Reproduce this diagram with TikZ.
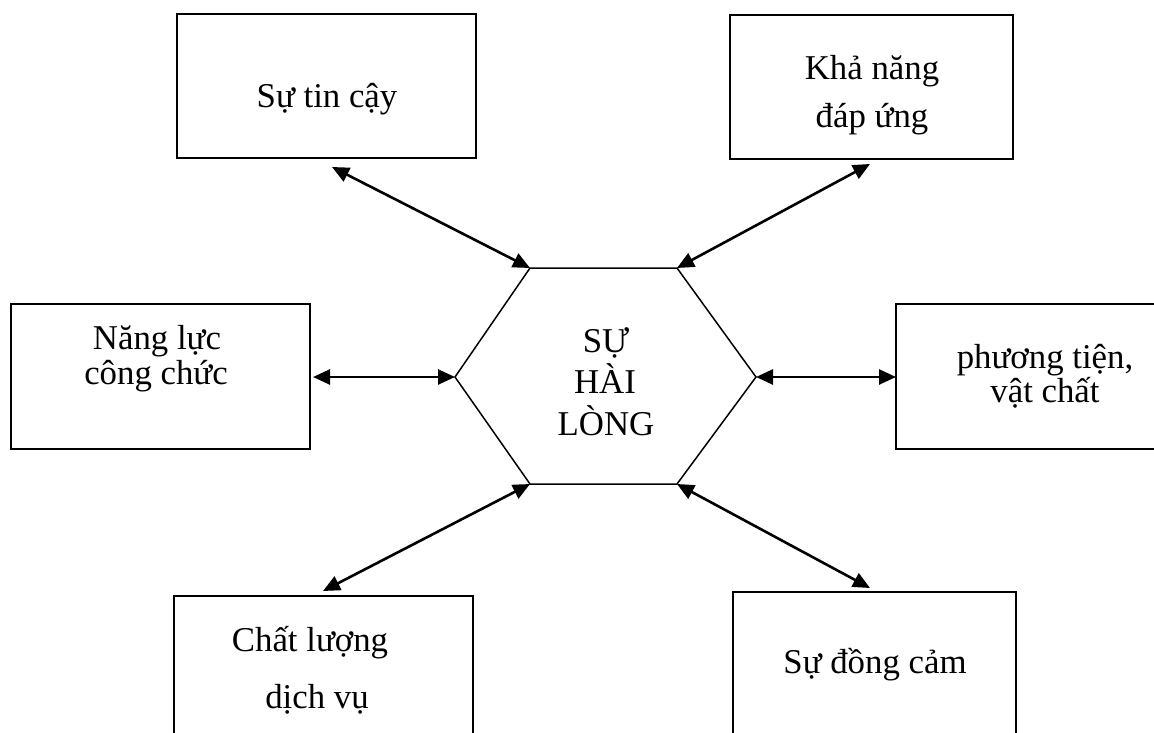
\documentclass[tikz,border=0pt]{standalone}
\usepackage{fontspec}
\setmainfont{Liberation Serif}
\usetikzlibrary{arrows.meta}
\tikzset{
  box/.style={draw, line width=2pt, rectangle, inner sep=0pt},
  txt/.style={anchor=base, inner sep=0pt, font=\fontsize{34.8}{34}\selectfont},
  link/.style={line width=2.6pt, {Triangle[length=17pt,width=15pt]}-{Triangle[length=17pt,width=15pt]}},
  hexline/.style={line width=1.5pt, line join=miter}
}
\begin{document}
\begin{tikzpicture}[x=1pt,y=-1pt]
\useasboundingbox (0,0) rectangle (1154,733);
\clip (0,0) rectangle (1154,733);
% boxes
\node[box, minimum width=299pt, minimum height=144pt] (b1) at (326.5,86) {};
\node[box, minimum width=283pt, minimum height=144pt] (b2) at (871.5,87) {};
\node[box, minimum width=299pt, minimum height=145pt] (b3) at (160.5,376.5) {};
\node[box, minimum width=294pt, minimum height=145pt] (b4) at (1043,376.5) {};
\node[box, minimum width=299pt, minimum height=144pt] (b5) at (323.5,668) {};
\node[box, minimum width=283pt, minimum height=144pt] (b6) at (874.5,664) {};
% texts
\node[txt] (t1) at (327,108) {Sự tin cậy};
\node[txt] (t2a) at (872,80) {Khả năng};
\node[txt] (t2b) at (872,128) {đáp ứng};
\node[txt] (t3a) at (157,349) {Năng lực};
\node[txt] (t3b) at (156,384) {công chức};
\node[txt, align=center] (t4) at (1045,402) {phương tiện,\\vật chất};
\node[txt] (t5a) at (310,651) {Chất lượng};
\node[txt] (t5b) at (317,708) {dịch vụ};
\node[txt] (t6) at (875,673) {Sự đồng cảm};
% hexagon
\coordinate (hL) at (455,377);
\coordinate (hTL) at (530,268);
\coordinate (hTR) at (677,268);
\coordinate (hR) at (756,377);
\coordinate (hBR) at (677,484);
\coordinate (hBL) at (530,484);
\draw[hexline] (hL) -- (hTL) -- (hTR) -- (hR) -- (hBR) -- (hBL) -- cycle;
\node[txt] (hc1) at (606,352) {SỰ};
\node[txt] (hc2) at (605,393) {HÀI};
\node[txt] (hc3) at (606,435) {LÒNG};
% arrow ends near boxes
\coordinate (e1) at (332,167);
\coordinate (e2) at (870,164);
\coordinate (e3) at (313,377);
\coordinate (e4) at (896,377);
\coordinate (e5) at (323,591);
\coordinate (e6) at (870,588);
% connectors
\draw[link] (e1) -- (hTL);
\draw[link] (e2) -- (hTR);
\draw[link] (e3) -- (hL);
\draw[link] (hR) -- (e4);
\draw[link] (hBL) -- (e5);
\draw[link] (hBR) -- (e6);
\end{tikzpicture}
\end{document}
